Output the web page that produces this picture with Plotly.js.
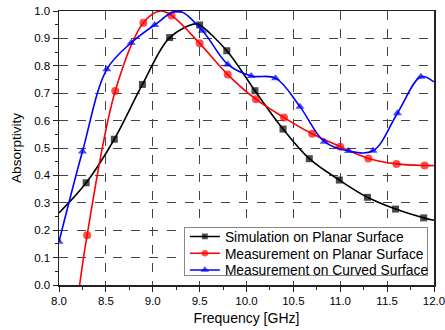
<!DOCTYPE html>
<html>
<head>
<meta charset="utf-8">
<script src="https://cdn.plot.ly/plotly-3.0.1.min.js"></script>
<style>html,body{margin:0;padding:0;background:#fff;}#chart{width:445px;height:330px;}</style>
</head>
<body>
<div id="chart"></div>
<script>
// Simulation on Planar Surface (black squares)
const simFreq = [8.0, 8.29, 8.59, 8.89, 9.18, 9.45, 9.5, 9.79, 10.09, 10.39, 10.67, 10.99, 11.29, 11.59, 11.89, 12.0];
const simVal  = [0.263, 0.373, 0.532, 0.732, 0.903, 0.953, 0.949, 0.855, 0.709, 0.569, 0.461, 0.383, 0.32, 0.277, 0.245, 0.236];
const simMark = [0, 1, 1, 1, 1, 0, 1, 1, 1, 1, 1, 1, 1, 1, 1, 0];

// Measurement on Planar Surface (red circles)
const mpFreq = [8.22, 8.3, 8.6, 8.9, 9.08, 9.2, 9.5, 9.8, 10.1, 10.4, 10.7, 11.0, 11.3, 11.6, 11.9, 12.0];
const mpVal  = [0.0, 0.182, 0.708, 0.957, 1.0, 0.984, 0.882, 0.768, 0.678, 0.611, 0.552, 0.505, 0.462, 0.442, 0.436, 0.436];
const mpMark = [0, 1, 1, 1, 0, 1, 1, 1, 1, 1, 1, 1, 1, 1, 1, 0];

// Measurement on Curved Surface (blue triangles)
const mcFreq = [8.0, 8.25, 8.51, 8.77, 9.02, 9.27, 9.53, 9.8, 10.05, 10.31, 10.57, 10.83, 11.09, 11.35, 11.61, 11.86, 12.0];
const mcVal  = [0.158, 0.487, 0.787, 0.884, 0.949, 1.0, 0.928, 0.805, 0.763, 0.755, 0.651, 0.523, 0.489, 0.49, 0.627, 0.76, 0.741];
const mcMark = [1, 1, 1, 1, 1, 1, 1, 1, 1, 1, 1, 1, 1, 1, 1, 1, 0];

const seriesNames = ["Simulation on Planar Surface", "Measurement on Planar Surface", "Measurement on Curved Surface"];
const xTicks = [8.0, 8.5, 9.0, 9.5, 10.0, 10.5, 11.0, 11.5, 12.0];
const yTicks = [0.0, 0.1, 0.2, 0.3, 0.4, 0.5, 0.6, 0.7, 0.8, 0.9, 1.0];

function mk(x, y, m, name, color, symbol, size) {
  return {
    x: x, y: y, name: name, type: 'scatter', mode: 'lines+markers',
    line: {color: color, width: 1.6, shape: 'spline', smoothing: 1},
    marker: {color: color, symbol: symbol, size: m.map(v => v ? size : 0), line: {width: 0}},
    cliponaxis: true
  };
}

const data = [
  mk(simFreq, simVal, simMark, seriesNames[0], '#000000', 'square', 7),
  mk(mpFreq, mpVal, mpMark, seriesNames[1], '#ff0000', 'circle', 8),
  mk(mcFreq, mcVal, mcMark, seriesNames[2], '#0000ff', 'triangle-up', 8)
];

const font = {family: 'Liberation Sans, Arial, sans-serif', color: '#000'};

const layout = {
  width: 445, height: 330,
  margin: {l: 59, r: 11, t: 11, b: 45, autoexpand: false},
  paper_bgcolor: '#fff', plot_bgcolor: '#fff',
  font: Object.assign({size: 11.5}, font),
  showlegend: true,
  legend: {
    x: 0.333, y: 0.21, xanchor: 'left', yanchor: 'top',
    bgcolor: '#fff', bordercolor: '#888', borderwidth: 1,
    font: Object.assign({size: 13.8}, font),
    tracegroupgap: 0, itemwidth: 30
  },
  xaxis: {
    range: [8, 12], tickvals: xTicks, ticktext: xTicks.map(v => v.toFixed(1)),
    showgrid: true, gridcolor: '#444', griddash: 'dash', gridwidth: 1,
    zeroline: false, showline: true, linecolor: '#222', linewidth: 1.5, mirror: true,
    ticks: 'outside', ticklen: 5, tickcolor: '#222', tickwidth: 1,
    minor: {dtick: 0.25, ticks: 'outside', ticklen: 3, tickcolor: '#222', showgrid: false},
    title: {text: 'Frequency [GHz]', font: Object.assign({size: 14}, font), standoff: 7},
    tickfont: Object.assign({size: 11.5}, font),
    ticklabeloverflow: 'allow', automargin: false
  },
  yaxis: {
    range: [0, 1], tickvals: yTicks, ticktext: yTicks.map(v => v.toFixed(1)),
    showgrid: true, gridcolor: '#444', griddash: 'dash', gridwidth: 1,
    zeroline: false, showline: true, linecolor: '#222', linewidth: 1.5, mirror: true,
    ticks: 'outside', ticklen: 5, tickcolor: '#222', tickwidth: 1,
    minor: {dtick: 0.05, ticks: 'outside', ticklen: 3, tickcolor: '#222', showgrid: false},
    title: {text: 'Absorptivity', font: Object.assign({size: 13.5}, font), standoff: 9},
    tickfont: Object.assign({size: 11.5}, font),
    ticklabeloverflow: 'allow', automargin: false
  }
};

Plotly.newPlot('chart', data, layout, {displayModeBar: false, staticPlot: true}).then(gd => {
  // tighten legend row spacing to match the reference
  const leg = gd.querySelector('.legend');
  if (!leg) return;
  const bg = leg.querySelector('rect.bg');
  if (bg) { bg.setAttribute('height', 48); bg.setAttribute('width', 243); }
  const rows = leg.querySelectorAll('.traces');
  const centers = [9, 25.8, 42.5];
  rows.forEach((r, i) => {
    const t = r.getAttribute('transform') || '';
    const m = /translate\(\s*([-\d.]+)[ ,]+([-\d.]+)\s*\)/.exec(t);
    const x = m ? m[1] : 1;
    r.setAttribute('transform', 'translate(' + x + ',' + centers[i] + ')');
  });
});
</script>
</body>
</html>
